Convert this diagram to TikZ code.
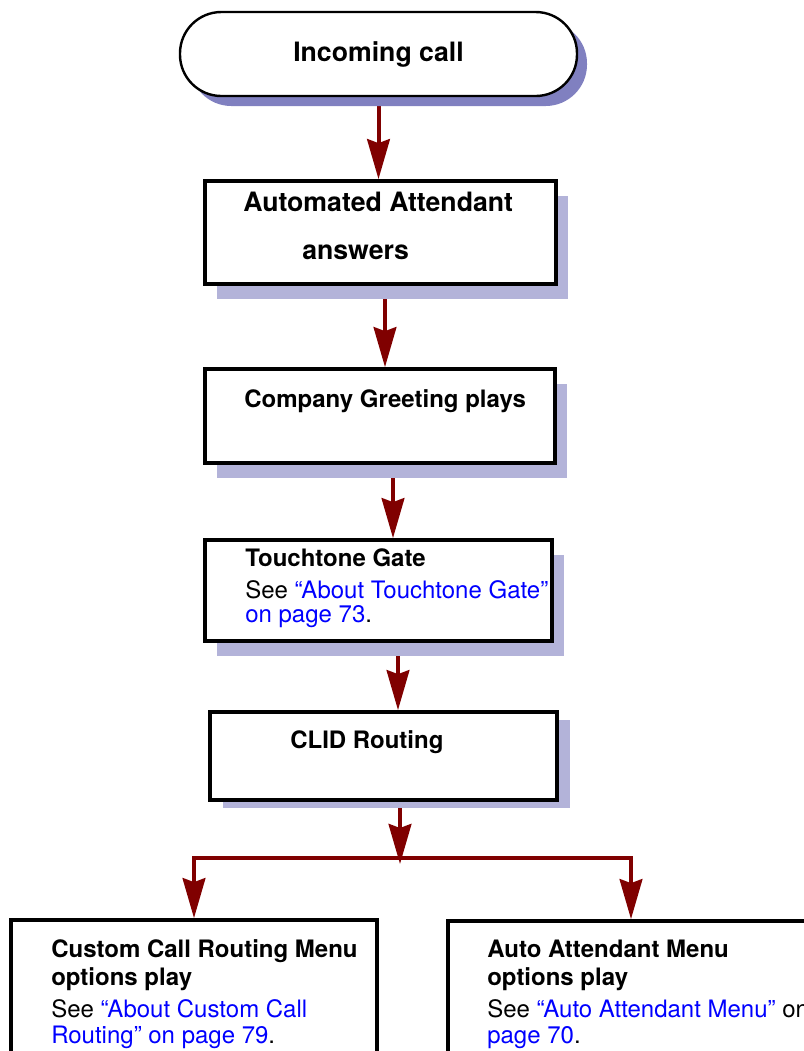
\documentclass[tikz,border=0pt]{standalone}
\usepackage{fontspec}
\setmainfont{TeX Gyre Heros}
\usetikzlibrary{arrows.meta,calc,shadows,backgrounds}
\definecolor{flowred}{HTML}{800000}
\definecolor{shadelav}{HTML}{B3B3D9}
\definecolor{shadedark}{HTML}{8080C0}
\definecolor{linkblue}{HTML}{0000FF}
\tikzset{
        box/.style={draw,line width=2.8pt,fill=white,inner sep=0pt},
        shade box/.style 2 args={drop shadow={shadow xshift=#1,shadow yshift=#2,fill=shadelav,opacity=1}},
        flow/.style={draw=flowred,line width=3pt,-{Stealth[length=30pt,width=17pt,inset=3pt]}},
        txt/.style={inner sep=0pt,anchor=base west,align=left,font=\fontsize{18}{18}\selectfont},
        big/.style={font=\fontsize{20}{20}\selectfont\bfseries}
        }
\newcommand{\lnk}[1]{\textcolor{linkblue}{#1}}

\begin{document}
\begin{tikzpicture}[x=0.75pt,y=-0.75pt]
    \clip (0,0) rectangle (804,1051);
    % the start of the call
    \node[box,line width=1.8pt,rounded corners=31pt,minimum width=297.75pt,minimum height=63pt,big,
          drop shadow={shadow xshift=7.5pt,shadow yshift=-7.5pt,fill=shadedark,opacity=1}]
          (call) at (378.5,54) {Incoming call};

    % the boxes of the chain, shadow offsets as in the picture
    \node[box,shade box={9pt}{-11.25pt},minimum width=263.25pt,minimum height=77.25pt] (attd) at (380.5,232.5) {};
    \node[box,shade box={9pt}{-11.25pt},minimum width=262.5pt,minimum height=70.5pt] (greet) at (380,416) {};
    \node[box,shade box={9pt}{-11.25pt},minimum width=260.25pt,minimum height=75.75pt] (gate) at (378.5,590.5) {};
    \node[box,shade box={10pt}{-6pt},minimum width=260.25pt,minimum height=66pt] (clid) at (383.5,756) {};
    % the two boxes at the foot, cut by the page
    \node[box,minimum width=274.5pt,minimum height=120pt] (custom) at (194,1000) {};
    \node[box,minimum width=274.5pt,minimum height=120pt] (menu) at (631,1001) {};

    % texts (base west of a multi-line node is its last line)
    \node[big,inner sep=0pt,anchor=base west] (attd-a) at (243,211) {Automated Attendant};
    \node[big,inner sep=0pt,anchor=base west] (attd-b) at (302,259) {answers};
    \node[txt,font=\fontsize{18}{18}\selectfont\bfseries] (greet-t) at (244,407) {Company Greeting plays};
    \node[txt,font=\fontsize{18}{18}\selectfont\bfseries] (clid-t) at (290,748) {CLID Routing};
    \node[txt] (gate-t) at (245,622) {\textbf{Touchtone Gate}\\[6pt]
        See \lnk{``About Touchtone Gate''}\\\lnk{on page 73}.};
    \node[txt] (custom-t) at (51,1043) {\textbf{Custom Call Routing Menu}\\[3pt]
        \textbf{options play}\\[6pt]See \lnk{``About Custom Call}\\[1pt]\lnk{Routing'' on page 79}.};
    \node[txt] (menu-t) at (487,1043) {\textbf{Auto Attendant Menu}\\[3pt]
        \textbf{options play}\\[6pt]See \lnk{``Auto Attendant Menu''} on\\[1pt]\lnk{page 70}.};

    % connectors, behind the boxes and their shadows
    \coordinate (split) at (400,858);
    \begin{scope}[on background layer]
        \draw[flow] (call.south) -- (call.south |- attd.north);
        \draw[flow] ($(attd.south)+(4.5,0)$) -- ($(greet.north)+(5,0)$);
        \draw[flow] ($(greet.south)+(13,0)$) -- ($(gate.north)+(14.5,0)$);
        \draw[flow] ($(gate.south)+(19.5,0)$) -- ($(clid.north)+(14.5,0)$);
        \draw[flow,shorten >=-4.5pt] ($(clid.south)+(16.5,0)$) -- (split);
        \draw[flow] (split) -| (custom.north);
        \draw[flow] (split) -| (menu.north);
    \end{scope}
\end{tikzpicture}
\end{document}
